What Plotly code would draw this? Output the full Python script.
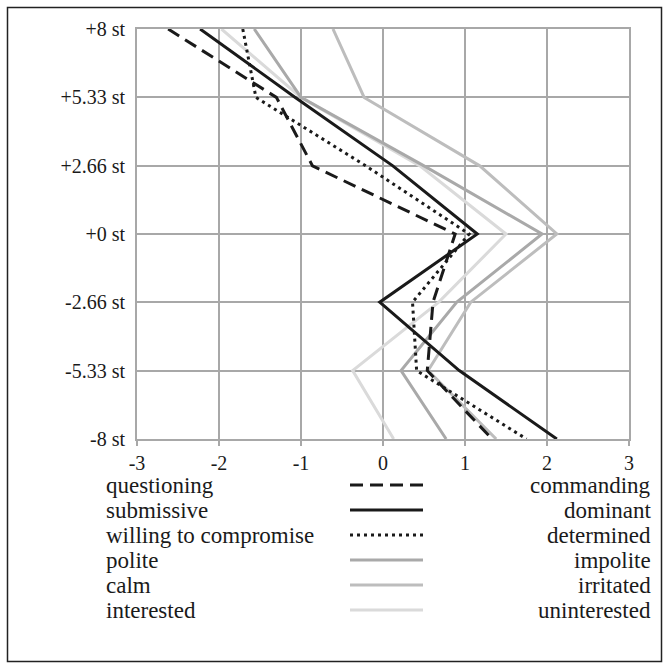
import plotly.graph_objects as go

# ---- data ----
pitch_levels = [8, 5.33, 2.66, 0, -2.66, -5.33, -8]
pitch_labels = ["+8 st", "+5.33 st", "+2.66 st", "+0 st", "-2.66 st", "-5.33 st", "-8 st"]
x_ticks = [-3, -2, -1, 0, 1, 2, 3]

left_labels = ["questioning", "submissive", "willing to compromise", "polite", "calm", "interested"]
right_labels = ["commanding", "dominant", "determined", "impolite", "irritated", "uninterested"]

questioning_commanding = [-2.62, -1.30, -0.86, 0.88, 0.61, 0.54, 1.33]
submissive_dominant = [-2.23, -1.07, 0.12, 1.15, -0.04, 0.93, 2.12]
compromise_determined = [-1.71, -1.55, -0.21, 1.05, 0.36, 0.41, 1.75]
polite_impolite = [-1.57, -1.00, 0.50, 1.94, 0.90, 0.22, 0.77]
calm_irritated = [-0.61, -0.23, 1.18, 2.12, 1.07, 0.55, 1.38]
interested_uninterested = [-1.97, -1.00, 0.45, 1.50, 0.68, -0.37, 0.13]

series = [questioning_commanding, submissive_dominant, compromise_determined,
          polite_impolite, calm_irritated, interested_uninterested]
styles = [
    dict(color="#1a1a1a", width=3, dash="13px,7px"),
    dict(color="#1a1a1a", width=3, dash="solid"),
    dict(color="#1a1a1a", width=3, dash="3px,4px"),
    dict(color="#a9a9a9", width=3, dash="solid"),
    dict(color="#bdbdbd", width=3, dash="solid"),
    dict(color="#dadada", width=3, dash="solid"),
]

W, H = 670, 670
L, R, T, B = 137, 41, 29, 231
PW, PH = W - L - R, H - T - B

def px_x(p):
    return (p - L) / PW

def px_y(p):
    return (H - B - p) / PH

fig = go.Figure()
# draw lighter lines first so black lines are on top
order = [5, 4, 3, 2, 1, 0]
for i in order:
    fig.add_trace(go.Scatter(x=series[i], y=pitch_levels, mode="lines",
                             line=styles[i], showlegend=False, hoverinfo="skip"))

font_family = "Liberation Serif"
grid_col = "#a8a8a8"

fig.update_layout(
    width=W, height=H,
    margin=dict(l=L, r=R, t=T, b=B),
    paper_bgcolor="white", plot_bgcolor="white",
    showlegend=False,
    font=dict(family=font_family, size=20, color="#1a1a1a"),
    xaxis=dict(range=[-3, 3], tickvals=x_ticks, ticktext=[str(v) for v in x_ticks],
               showgrid=True, gridcolor=grid_col, gridwidth=2,
               zeroline=False, showline=True, linecolor=grid_col, linewidth=2,
               mirror=True, ticks="outside", ticklen=5, tickcolor=grid_col, tickwidth=2,
               tickfont=dict(family=font_family, size=20, color="#1a1a1a")),
    yaxis=dict(range=[-8, 8], tickvals=pitch_levels, ticktext=pitch_labels,
               showgrid=True, gridcolor=grid_col, gridwidth=2,
               zeroline=False, showline=True, linecolor=grid_col, linewidth=2,
               mirror=True, ticks="", ticklabelstandoff=6,
               tickfont=dict(family=font_family, size=20, color="#1a1a1a")),
)

shapes = []
# outer frame
shapes.append(dict(type="rect", xref="paper", yref="paper",
                   x0=px_x(7.5), x1=px_x(661.5), y0=px_y(661.5), y1=px_y(7.5),
                   line=dict(color="#222222", width=1.5), fillcolor="rgba(0,0,0,0)"))

row_y = [485, 510, 535, 560, 585, 610]
annotations = []
for k in range(6):
    yp = px_y(row_y[k])
    st = styles[k]
    shapes.append(dict(type="line", xref="paper", yref="paper",
                       x0=px_x(350), x1=px_x(423), y0=yp, y1=yp,
                       line=dict(color=st["color"], width=st["width"], dash=st["dash"])))
    annotations.append(dict(text=left_labels[k], xref="paper", yref="paper",
                            x=px_x(104), y=yp, xanchor="left", yanchor="middle",
                            showarrow=False, font=dict(family=font_family, size=23, color="#1a1a1a")))
    annotations.append(dict(text=right_labels[k], xref="paper", yref="paper",
                            x=px_x(653), y=yp, xanchor="right", yanchor="middle",
                            showarrow=False, font=dict(family=font_family, size=23, color="#1a1a1a")))

fig.update_layout(shapes=shapes, annotations=annotations)
fig.write_html("out.html", config={"displayModeBar": False},
               post_script="document.body.style.margin='0';document.body.style.padding='0';")
